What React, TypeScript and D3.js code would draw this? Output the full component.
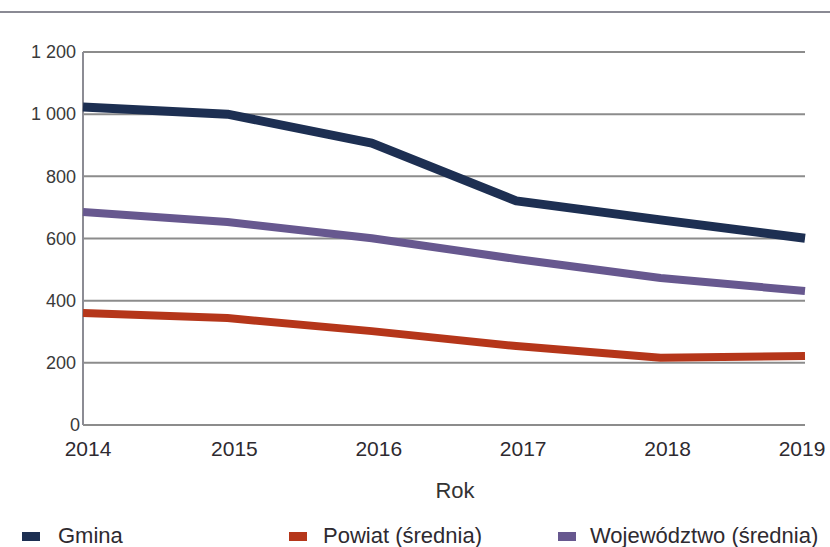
import React from "react";
import * as d3 from "d3";

const years = ["2014", "2015", "2016", "2017", "2018", "2019"];
const gmina = [1023, 1000, 907, 721, 660, 601];
const powiat = [360, 344, 302, 254, 216, 222];
const wojewodztwo = [685, 653, 601, 534, 473, 431];
const yTicks = [0, 200, 400, 600, 800, 1000, 1200];
const seriesNames = ["Gmina", "Powiat (średnia)", "Województwo (średnia)"];
const seriesColors = ["#1d2f52", "#b5361a", "#67588f"];

export default function App() {
  const W = 830, H = 547;
  const left = 83, right = 805, top = 52, bottom = 425;
  const x = d3.scalePoint<string>().domain(years).range([left, right]);
  const y = d3.scaleLinear().domain([0, 1200]).range([bottom, top]);
  const line = d3.line<number>().x((_, i) => x(years[i])!).y((d) => y(d));
  const fmt = (v: number) => (v >= 1000 ? d3.format(",")(v).replace(",", " ") : String(v));
  const series = [wojewodztwo, powiat, gmina];
  const colorsFor = [seriesColors[2], seriesColors[1], seriesColors[0]];
  const widths = [8, 8, 9];
  const legendX = [22, 289, 558];
  const legendTextX = [58, 323, 590];
  const font = "Liberation Sans, Arial, sans-serif";
  return (
    <svg width={W} height={H} style={{ position: "absolute", left: 0, top: 0 }} fontFamily={font}>
      <rect width={W} height={H} fill="#fff" />
      <line x1={0} x2={W} y1={12} y2={12} stroke="#8a8a94" strokeWidth={2} />
      {yTicks.map((t) => (
        <g key={t}>
          {t > 0 && (
            <line x1={left} x2={right} y1={y(t)} y2={y(t)} stroke="#8c8c8c" strokeWidth={2} />
          )}
          <text x={t === 0 ? 80 : 76} y={y(t)} dy="0.35em" textAnchor="end" fontSize={18} fill="#3a3a3a">
            {fmt(t)}
          </text>
        </g>
      ))}
      <line x1={left} x2={right} y1={bottom} y2={bottom} stroke="#8c8c8c" strokeWidth={2} />
      <line x1={left} x2={left} y1={top} y2={bottom} stroke="#8c8c94" strokeWidth={2} />
      {series.map((s, i) => (
        <path key={i} d={line(s)!} fill="none" stroke={colorsFor[i]} strokeWidth={widths[i]} strokeLinejoin="round" />
      ))}
      {years.map((yr, i) => (
        <text key={yr} x={x(yr)! + (i === years.length - 1 ? -3 : i === 0 ? 5 : 7)} y={456} textAnchor="middle" fontSize={21} fill="#2e2a30">
          {yr}
        </text>
      ))}
      <text x={455} y={498} textAnchor="middle" fontSize={22} fill="#333">Rok</text>
      {seriesNames.map((n, i) => (
        <g key={n}>
          <rect x={legendX[i]} y={532} width={18} height={9} fill={seriesColors[i]} />
          <text x={legendTextX[i]} y={543} fontSize={22} fill="#2e2a30">
            {n}
          </text>
        </g>
      ))}
    </svg>
  );
}
